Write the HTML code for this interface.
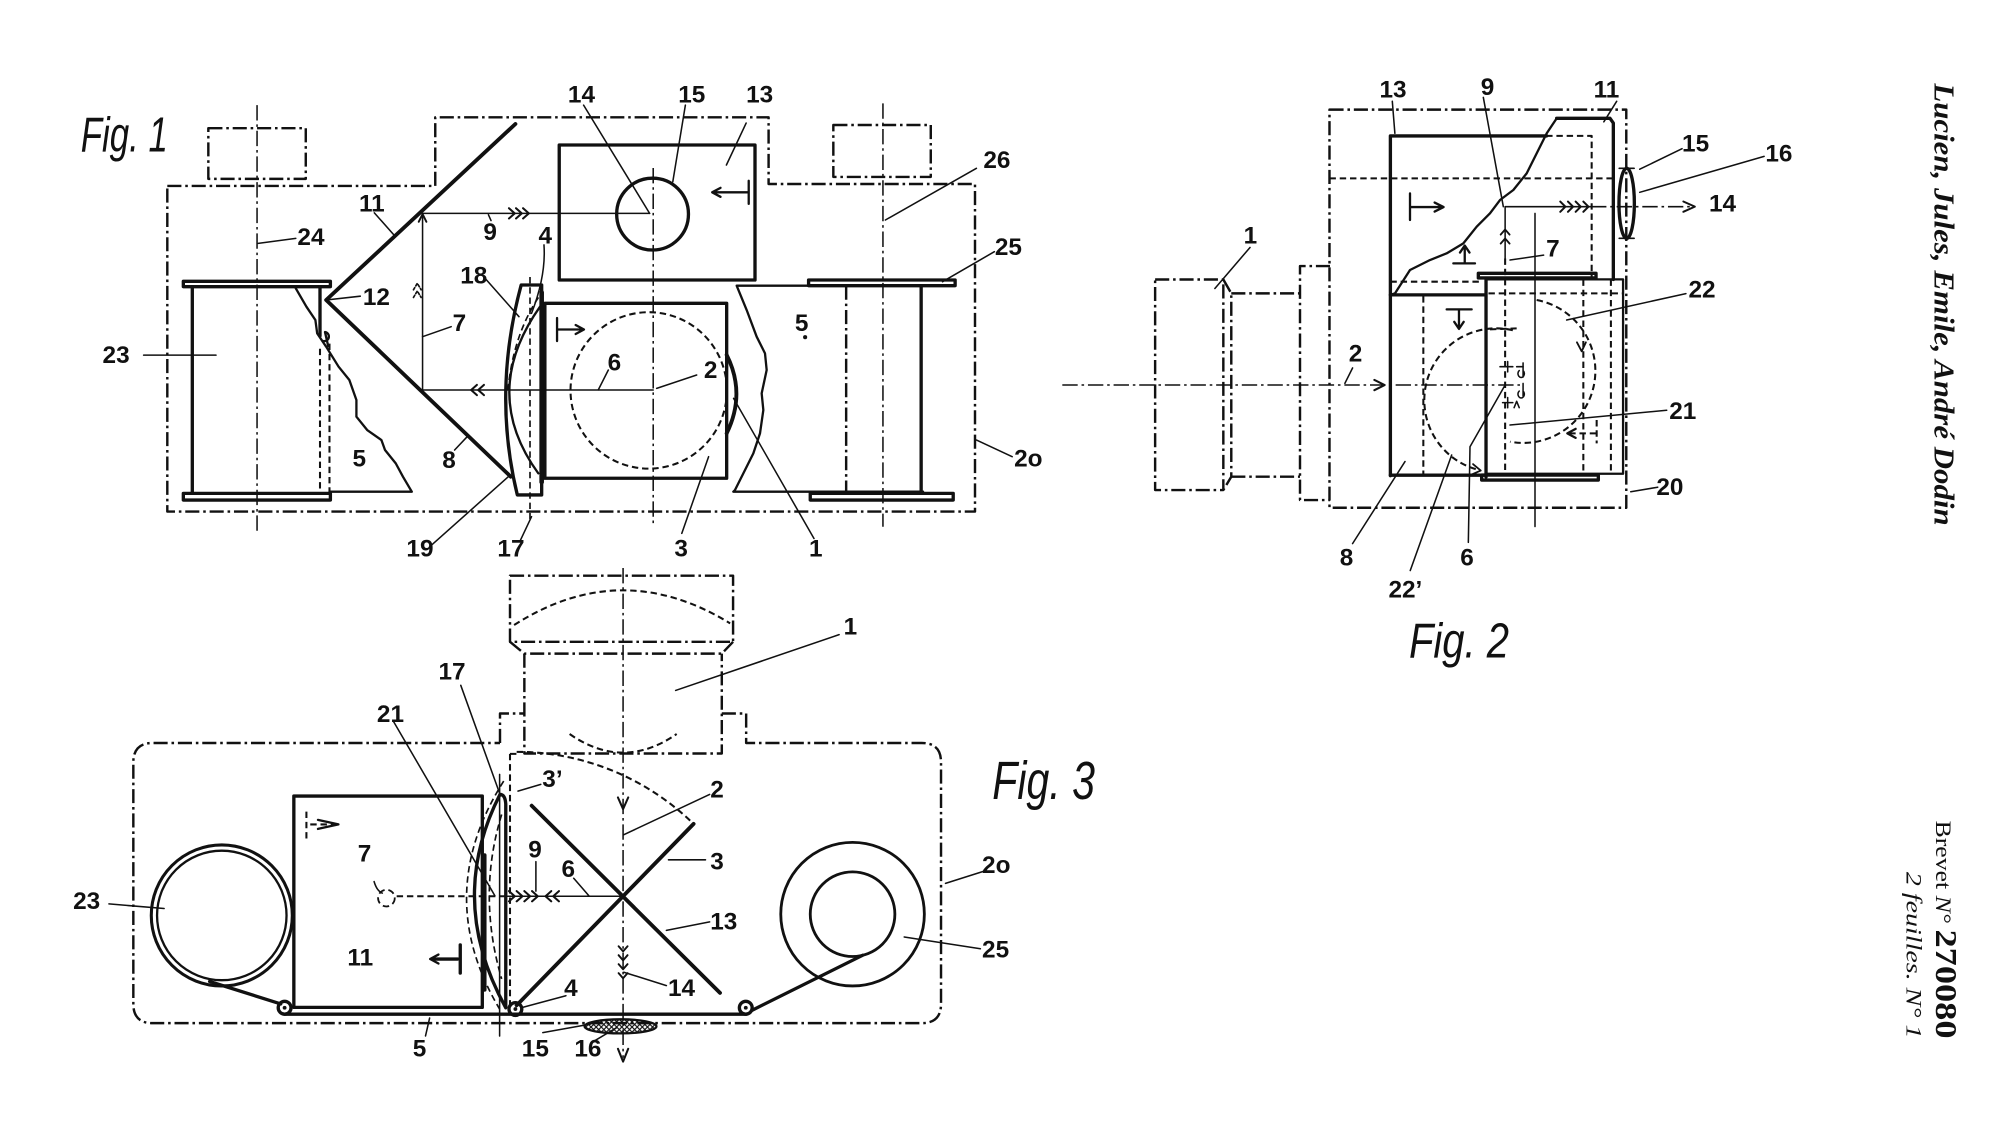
<!DOCTYPE html>
<html><head><meta charset="utf-8">
<style>
html,body{margin:0;padding:0;background:#fff;}
svg{display:block;}
text{font-family:"Liberation Sans",sans-serif;font-weight:bold;font-size:19px;fill:#111;stroke:none}
.fig{font-style:italic;font-weight:normal;font-size:38px}
.sv{font-family:"Liberation Serif",serif}
.s{fill:none;stroke:#111;stroke-linecap:round;stroke-linejoin:round}
.dd{stroke-width:1.9;stroke-dasharray:11 3 2 3;stroke-linecap:butt}
.cl{stroke-width:1.2;stroke-dasharray:12 3 2 3;stroke-linecap:butt}
.ds{stroke-width:1.6;stroke-dasharray:5 3;stroke-linecap:butt}
.tk{stroke-width:2.6}
.md{stroke-width:1.8}
.tn{stroke-width:1.2}
</style></head><body>
<svg width="2000" height="1127" viewBox="0 0 1560 879" preserveAspectRatio="none" xmlns="http://www.w3.org/2000/svg">
<defs>
<pattern id="h" width="4" height="4" patternUnits="userSpaceOnUse"><path d="M0,4 L4,0 M0,0 L4,4" stroke="#111" stroke-width="0.9"/></pattern>
</defs>
<rect width="1560" height="879" fill="#fff"/>

<!-- ================= FIG 1 ================= -->
<g class="s">
<g class="dd">
<path d="M130.5,145 H339.5 V91.5 H599.5 V143.5 H760.5 V399 H130.5 Z"/>
<path d="M162.5,100 H238.5 V139.5 H162.5 Z"/>
<path d="M650,97.5 H726 V138 H650 Z"/>
<path d="M660,222.8 V384.8"/>
</g>
<g class="cl">
<path d="M200.5,82 V416 M688.7,80.6 V410.8 M509.5,131 V410"/>
</g>
<g class="ds">
<path d="M249.6,272 V384.8 M257,268 V384.8"/>
<path d="M413.4,216 V405.6" stroke-width="1.3"/>
<path d="M420,232 Q400,262 396,306" stroke-width="1.3"/>
<circle cx="506" cy="304.5" r="61"/>
</g>
<g class="tk">
<path d="M402,96.7 L254.4,234 L398.4,371.8" stroke-width="3"/>
<path d="M143,219.4 h114.7 v4.2 h-114.7 z M143,384.8 h114.7 v5.2 h-114.7 z"/>
<path d="M150,223.6 V384.8 M249.6,223.6 V262"/>
<path d="M406.5,222.3 L422.5,222.3 L422.5,386 L403.5,386 Q384,306 406.5,222.3 Z"/>
<path d="M422.5,228 V376" stroke-width="3.6"/>
<path d="M425,236.6 H566.8 V373 H425 Z"/>
<path d="M566.8,276.8 Q582,307 566.8,338" stroke-width="3"/>
<path d="M630.7,218.4 h114.3 v4.4 h-114.3 z M632,384.8 h111.5 v5.2 h-111.5 z"/>
<path d="M718.5,222.8 V384.8"/>
<path d="M436.2,113.1 H588.9 V218.4 H436.2 Z"/>
<circle cx="509" cy="167" r="28"/>
</g>
<g class="md">
<path d="M230.7,224.9 L239,239.2 L246,249.6 L247.4,260 L254.4,270.4 L264.1,286 L272.5,296.4 L278,312 L278,325 L286.4,335.4 L297.5,343.2 L300.3,351 L308.7,361.4 L314.3,371.8 L321.2,383.5 H257"/>
<path d="M252.5,266 a3.5,3.5 0 1,0 1,-7 L256,270"/>
<path d="M421.2,239.2 Q374,306 419.9,369.2"/>
<path d="M434.5,248 V266 M434.5,257 H455 M449,253.5 L455.5,257 L449,260.5"/>
<path d="M630.7,222.8 H574.6 L582.4,241.8 L590.2,262.6 L596.7,275.6 L598,288.6 L594.1,306.8 L595.4,319.8 L592.8,338 L587.6,353.6 L579.8,369.2 L573.3,382.2 L572,383.5 H720"/>
<path d="M584,141 V159 M584,150 H556 M562,146.5 L555.5,150 L562,153.5"/>
</g>
<g class="tn">
<path d="M329.6,166.4 H506.7 M329.6,166.4 V304.2 H509.5"/>
<path d="M397,162.4 L401.5,166.4 L397,170.4 M402.5,162.4 L407,166.4 L402.5,170.4 M408,162.4 L412.5,166.4 L408,170.4" stroke-width="1.6"/>
<path d="M326.6,173 L329.6,167 L332.6,173" stroke-width="1.5"/>
<path d="M322.5,226 L325.5,221 L328.5,226 M322.5,232 L325.5,227 L328.5,232" stroke-width="1.3" stroke-dasharray="2 1.5"/>
<path d="M372,300.2 L367.5,304.2 L372,308.2 M377.5,300.2 L373,304.2 L377.5,308.2" stroke-width="1.6"/>
<path d="M455.2,82 L506.7,166.4 M534.6,82 L524.8,141.7 M582,96 L566.6,128.7 M292,166 L307.3,183.3 M201.4,189.8 L230.7,185.9 M761.6,131.3 L690.6,171.6 M775.6,196.3 L735.2,219.7 M378.3,217 L404.8,247 M254.4,234 L281,231 M329.6,262.6 L351.9,254.8 M112,277 H168.5 M474.5,288.6 L466.7,304 M512.2,302.9 L543.4,292.5 M789.5,356.2 L761.7,343.2 M354.6,351 L364.4,340.6 M335.2,426.4 L396.5,371.8 M406,421.2 L414.6,403 M531.8,416 L552.7,356.2 M634.9,420 L572.2,310.7 M381,167.5 L383,172"/>
<path d="M424.3,191 Q426,215 414.6,244.4"/>
</g>
</g>
<circle cx="628" cy="263" r="1.6" fill="#111"/>
<text class="fig" x="63" y="118" textLength="68" lengthAdjust="spacingAndGlyphs">Fig. 1</text>
<text x="443" y="80">14</text>
<text x="529" y="80">15</text>
<text x="582" y="80">13</text>
<text x="280" y="165">11</text>
<text x="377" y="187">9</text>
<text x="420" y="190">4</text>
<text x="232" y="191">24</text>
<text x="767" y="131">26</text>
<text x="776" y="199">25</text>
<text x="359" y="221">18</text>
<text x="283" y="238">12</text>
<text x="353" y="258">7</text>
<text x="80" y="283">23</text>
<text x="474" y="289">6</text>
<text x="549" y="295">2</text>
<text x="791" y="364">2o</text>
<text x="275" y="364">5</text>
<text x="345" y="365">8</text>
<text x="620" y="258">5</text>
<text x="317" y="434">19</text>
<text x="388" y="434">17</text>
<text x="526" y="434">3</text>
<text x="631" y="434">1</text>

<!-- ================= FIG 2 ================= -->
<g class="s">
<g class="dd">
<path d="M1037,85.5 H1268.5 V396 H1037 Z"/>
<path d="M1037.4,207.5 H1014 V390 H1037.4"/>
<path d="M901,218 H954.2 V382.2 H901 Z"/>
<path d="M954.2,218 L960.4,228.8 V371.8 L954.2,382.2"/>
<path d="M960.4,228.8 H1014 M960.4,371.8 H1014"/>
</g>
<g class="cl">
<path d="M828.6,300.3 H1186"/>
<path d="M1241,161.2 H1321"/>
</g>
<g class="ds">
<path d="M1206,106 H1241.5 V216"/>
<path d="M1037,139.1 H1258.4"/>
<path d="M1084.5,219.7 H1155"/>
<path d="M1161,228.8 H1266"/>
<path d="M1110.2,231 V370 M1174,201.6 V369 M1235,218 V369 M1256.5,218 V369"/>
<path d="M1180,257.6 A56,56 0 0,0 1154,366.7"/>
<path d="M1162.2,256.9 L1183,256.1"/>
<path d="M1198.6,234 A56,56 0 0,1 1177.8,344.5"/>
<path d="M1245.4,327.6 V345.8 M1245,338 H1224"/>
</g>
<g class="tk">
<path d="M1084.5,371 V106 H1206.4"/>
<path d="M1214.2,92.3 H1255.8 L1258.4,96 V218"/>
<path d="M1084.5,230 H1159 M1084.5,370.6 H1159"/>
<path d="M1159.1,217 V372"/>
<path d="M1153.1,213.2 H1244.9 V216.8 H1153.1 Z M1155.7,370.5 H1246.7 V374.4 H1155.7 Z"/>
<ellipse cx="1268.8" cy="158.6" rx="6" ry="27.3"/>
</g>
<g class="md">
<path d="M1084.5,230 L1088.1,228.8 L1099.8,210.6 L1115.4,202.8 L1128.4,197.6 L1141.4,189.8 L1151.8,176.8 L1162.2,166.4 L1170,156 L1180.4,148.2 L1190.8,135.2 L1198.6,119.6 L1206.4,104 L1214.2,92.3"/>
<path d="M1159,217.9 H1266 V369.5 H1159"/>
<path d="M1099.8,150.8 V171.6 M1099.8,161.5 H1125 M1119,158 L1126,161.5 L1119,165"/>
<path d="M1133.6,205.4 H1150.5 M1142.5,205.4 V192 M1138.8,197 L1142.5,191.5 L1146.2,197"/>
<path d="M1128.4,241.3 H1147.9 M1138,241.3 V256 M1134.3,251 L1138,256.5 L1141.7,251"/>
<path d="M1263,131.3 H1274.6 M1263,185.9 H1274.6" stroke-width="1.3"/>
<path d="M1229,334.5 L1222.5,338 L1229,341.5"/>
<path d="M1149,362 L1155,367 L1148,370" stroke-width="1.4"/>
<path d="M1230,267 L1233.7,274 L1237,267" stroke-width="1.4"/>
<path d="M1170,286 H1180 M1176,282 V290 M1183,286 L1188,286" stroke-width="1.2"/>
<path d="M1188,283 V294 M1185,289 a2.5,3 0 1,0 3,0 M1188,299 V309 M1185,305 a2.5,3 0 1,0 3,0 M1172,314 H1180 M1176,310 V318 M1181,318 L1183,313 L1185,318" stroke-width="1.2"/>
</g>
<g class="tn">
<path d="M1174,201.6 V161.2 H1241"/>
<path d="M1170.5,183 L1174,179 L1177.5,183 M1170.5,190 L1174,186 L1177.5,190" stroke-width="1.4"/>
<path d="M1217,157.2 L1221,161.2 L1217,165.2 M1223,157.2 L1227,161.2 L1223,165.2 M1229,157.2 L1233,161.2 L1229,165.2 M1235,157.2 L1239,161.2 L1235,165.2" stroke-width="1.6"/>
<path d="M1313,157.2 L1322,161.2 L1313,165.2" stroke-width="1.5"/>
<path d="M1072,296.3 L1080,300.3 L1072,304.3" stroke-width="1.6"/>
<path d="M1197.3,166.4 V410.6"/>
<path d="M1086,79 L1088,104 M1157,76 L1172.6,161.2 M1251,95 L1261,79 M1279,132 L1312,116 M1279,150 L1376,122 M975,193 L947.6,225 M1055,287 L1049,299 M1222,249.6 L1315,229 M1177.8,331.5 L1300,320 M1272,383.5 L1293,380 M1174,300.3 L1146.6,348.4 L1145.3,423 M1132.3,354.9 L1100,445 M1095.9,360 L1055,424 M1177.8,202.8 L1204,199"/>
</g>
</g>
<text class="fig" x="1099" y="513" textLength="78" lengthAdjust="spacingAndGlyphs">Fig. 2</text>
<text x="1076" y="76">13</text>
<text x="1155" y="74">9</text>
<text x="1243" y="76">11</text>
<text x="1312" y="118">15</text>
<text x="1377" y="126">16</text>
<text x="1333" y="165">14</text>
<text x="970" y="190">1</text>
<text x="1052" y="282">2</text>
<text x="1206" y="200">7</text>
<text x="1317" y="232">22</text>
<text x="1302" y="327">21</text>
<text x="1292" y="386">20</text>
<text x="1045" y="441">8</text>
<text x="1083" y="466">22’</text>
<text x="1139" y="441">6</text>

<!-- ================= FIG 3 ================= -->
<g transform="translate(-3,-3)">
<g class="s">
<g class="dd">
<path d="M400.8,452 H574.8 V503.6 H400.8 Z"/>
<path d="M400.8,503.6 L412,512.8 H566 L574.8,503.6"/>
<path d="M412,512.8 V590.7 H566 V512.8"/>
<path d="M393,582.5 V559.5 H412 M566,559.5 H585 V582.5 H722 Q737,582.5 737,597.5 V786 Q737,801 722,801 H122 Q107,801 107,786 V597.5 Q107,582.5 122,582.5 H393"/>
</g>
<g class="cl">
<path d="M489,446 V828"/>
</g>
<g class="ds">
<path d="M406,589.4 A197.6,197.6 0 0,1 544,645.6"/>
<path d="M400.8,591 H406 M400.8,591 V787"/>
<path d="M404,490.5 Q487.5,437 572.5,489.2"/>
<path d="M447.3,575.5 Q489,604.5 530.8,575.5"/>
<path d="M312.4,702 H399"/>
<circle cx="304.4" cy="703.5" r="6.5" stroke-width="1.4"/>
<path d="M394.3,638.3 Q375,701 394.3,766.5" stroke-width="1.3"/>
<path d="M395.9,612.2 Q339.6,701 392.7,790" stroke-width="1.3"/>
<path d="M242,636 V657 M245,646 H264"/>
</g>
<g class="tk">
<path d="M417.7,631.4 L564.6,777.4" stroke-width="3"/>
<path d="M544,645.6 L406,787.1" stroke-width="3"/>
<path d="M232.2,623.9 H379.2 V788.7 H232.2 Z"/>
<path d="M393,622.6 Q351,705 397.5,789 L397.5,630 Q397,622.6 393,622.6 Z"/>
<path d="M381,670 V775" stroke-width="3"/>
<circle cx="225" cy="789" r="5"/>
<circle cx="405" cy="790" r="5"/>
<circle cx="584.7" cy="789" r="5"/>
<path d="M225,794 H585"/>
<path d="M166.5,768.5 L222,786"/>
<path d="M589.5,791 L676,748"/>
<circle cx="176" cy="717" r="55" stroke-width="2.4"/>
<circle cx="176" cy="717" r="50.5" stroke-width="1.8"/>
<circle cx="668" cy="716" r="56" stroke-width="2.2"/>
<circle cx="668" cy="716" r="33" stroke-width="2.2"/>
<path d="M362,740 V762 M360,751 H340"/>
</g>
<g class="md">
<path d="M251,642.5 L267,646 L251,649.5"/>
<path d="M345,747.5 L338.5,751 L345,754.5"/>
</g>
<g class="tn">
<path d="M399,702 H489"/>
<path d="M400,698 L404.5,702 L400,706 M406,698 L410.5,702 L406,706 M412,698 L416.5,702 L412,706 M418,698 L422.5,702 L418,706" stroke-width="1.6"/>
<path d="M433,698 L428.5,702 L433,706 M439,698 L434.5,702 L439,706" stroke-width="1.6"/>
<path d="M485,625 L489,634 L493,625 M485,821 L489,831 L493,821" stroke-width="1.6"/>
<path d="M485.5,741 L489,745 L492.5,741 M485.5,748 L489,752 L492.5,748 M485.5,755 L489,759 L492.5,755 M485.5,762 L489,766 L492.5,762" stroke-width="1.5"/>
<path d="M392.7,607 V811"/>
<path d="M657.5,498 L530,541.5 M362.4,537.5 L393,622.6 M310,565.8 L389,701.6 M407,620 L424.8,614.8 M489.6,654 L556.5,622.6 M524.4,673.6 L553.3,673.6 M522.8,728.6 L556.5,722 M489.6,761.3 L522.8,771.7 M409.9,788.9 L444.4,779.6 M421,675 L421,698 M450.5,688 L462.4,701.7 M334.9,811 L338.1,797 M426.4,808.4 L463.4,801.8 M466.6,814.9 L484.2,804.4 M88,708 L131,711.6 M769.4,682.8 L740.5,692 M767.7,743 L708.3,733.8"/>
<path d="M294.8,690.6 Q297,698 301.2,699.6"/>
</g>
<ellipse cx="487" cy="803.5" rx="28" ry="5.5" fill="url(#h)" stroke-width="1.8"/>
</g>
<circle cx="225" cy="789" r="1.5" fill="#111"/>
<circle cx="405" cy="790" r="1.5" fill="#111"/>
<circle cx="584.7" cy="789" r="1.5" fill="#111"/>
<text class="fig" x="777" y="626" textLength="80" lengthAdjust="spacingAndGlyphs" style="font-size:42px">Fig. 3</text>
<text x="661" y="498">1</text>
<text x="345" y="533">17</text>
<text x="297" y="566">21</text>
<text x="426" y="617">3’</text>
<text x="557" y="625">2</text>
<text x="282" y="675">7</text>
<text x="415" y="672">9</text>
<text x="557" y="681">3</text>
<text x="441" y="687">6</text>
<text x="557" y="728">13</text>
<text x="274" y="756">11</text>
<text x="524" y="780">14</text>
<text x="443" y="780">4</text>
<text x="325" y="827">5</text>
<text x="410" y="827">15</text>
<text x="451" y="827">16</text>
<text x="60" y="712">23</text>
<text x="769" y="684">2o</text>
<text x="769" y="750">25</text>
</g>

<!-- margin text -->
<text class="sv" transform="translate(1509,65) rotate(90)" style="font-size:22px;font-style:italic;font-weight:bold" textLength="345" lengthAdjust="spacingAndGlyphs">Lucien, Jules, Emile, André Dodin</text>
<text class="sv" transform="translate(1510,640) rotate(90)" style="font-size:17px;font-weight:normal" textLength="170" lengthAdjust="spacingAndGlyphs">Brevet <tspan style="font-style:italic">N°</tspan> <tspan style="font-weight:bold;font-size:24px">270080</tspan></text>
<text class="sv" transform="translate(1487,680) rotate(90)" style="font-size:17px;font-style:italic;font-weight:normal" textLength="130" lengthAdjust="spacingAndGlyphs">2 feuilles. N° 1</text>
</svg>
</body></html>
